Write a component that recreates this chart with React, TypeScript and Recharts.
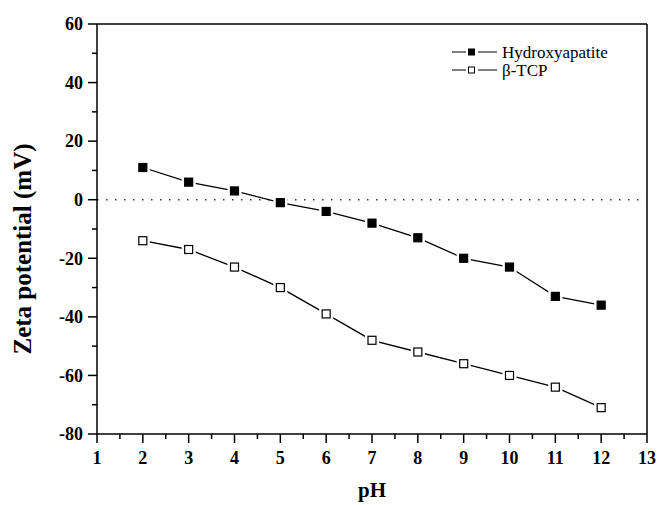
import { LineChart, Line, XAxis, YAxis, ReferenceLine, Customized } from "recharts";

const phValues = [2, 3, 4, 5, 6, 7, 8, 9, 10, 11, 12];
const hydroxyapatite = [11, 6, 3, -1, -4, -8, -13, -20, -23, -33, -36];
const betaTcp = [-14, -17, -23, -30, -39, -48, -52, -56, -60, -64, -71];

const xTicks = [1, 1.5, 2, 2.5, 3, 3.5, 4, 4.5, 5, 5.5, 6, 6.5, 7, 7.5, 8, 8.5, 9, 9.5, 10, 10.5, 11, 11.5, 12, 12.5, 13];
const yTicks = [-80, -70, -60, -50, -40, -30, -20, -10, 0, 10, 20, 30, 40, 50, 60];

const series = [
  { key: "ha", name: "Hydroxyapatite", filled: true },
  { key: "tcp", name: "\u03b2-TCP", filled: false },
];

const data = phValues.map((ph, i) => ({ ph, ha: hydroxyapatite[i], tcp: betaTcp[i] }));

const FONT = '"Liberation Serif", "Times New Roman", serif';
const serif = { fontFamily: FONT };

const SquareDot = ({ cx, cy, filled }: any) => {
  if (cx == null || cy == null) return null;
  return (
    <g>
      <rect x={cx - 7} y={cy - 7} width={14} height={14} fill="#fff" />
      <rect
        x={cx - 4}
        y={cy - 4}
        width={8}
        height={8}
        fill={filled ? "#000" : "#fff"}
        stroke="#000"
        strokeWidth={1.2}
      />
    </g>
  );
};

const YTick = ({ x, y, payload }: any) => {
  const major = payload.value % 20 === 0;
  return (
    <g>
      <line x1={x - (major ? 9 : 5)} y1={y} x2={x} y2={y} stroke="#000" strokeWidth={1.5} />
      {major && (
        <text x={x - 14} y={y} dy="0.35em" textAnchor="end" style={serif} fontWeight="bold" fontSize={18} fill="#000">
          {payload.value}
        </text>
      )}
    </g>
  );
};

const XTick = ({ x, y, payload }: any) => {
  const major = Number.isInteger(payload.value);
  return (
    <g>
      <line x1={x} y1={y} x2={x} y2={y + (major ? 9 : 5)} stroke="#000" strokeWidth={1.5} />
      {major && (
        <text x={x} y={y + 17} dy="0.71em" textAnchor="middle" style={serif} fontWeight="bold" fontSize={18} fill="#000">
          {payload.value}
        </text>
      )}
    </g>
  );
};

const Labels = () => (
  <g>
    <text
      x={0}
      y={0}
      transform="translate(31,249) rotate(-90)"
      textAnchor="middle"
      style={serif}
      fontWeight="bold"
      fontSize={25}
      fill="#000"
    >
      Zeta potential (mV)
    </text>
    <text x={372} y={497} textAnchor="middle" style={serif} fontWeight="bold" fontSize={21} fill="#000">
      pH
    </text>
    {series.map((s, i) => {
      const cy = 52 + i * 18;
      return (
        <g key={s.key}>
          <line x1={452} y1={cy} x2={497} y2={cy} stroke="#000" strokeWidth={1.2} />
          <rect x={466} y={cy - 5} width={12} height={10} fill="#fff" />
          <rect x={468.5} y={cy - 3} width={6} height={6} fill={s.filled ? "#000" : "#fff"} stroke="#000" strokeWidth={1} />
          <text x={502} y={cy} dy="0.35em" style={serif} fontSize={17} fill="#000">
            {s.name}
          </text>
        </g>
      );
    })}
  </g>
);

export default function App() {
  return (
    <div style={{ position: "absolute", left: 0, top: 0, background: "#fff" }}>
      <LineChart width={658} height={505} data={data} margin={{ top: 24, right: 11, bottom: 0, left: 0 }}>
        <XAxis
          dataKey="ph"
          type="number"
          domain={[1, 13]}
          ticks={xTicks}
          interval={0}
          tick={<XTick />}
          tickLine={false}
          tickSize={0}
          tickMargin={0}
          height={71}
          axisLine={{ stroke: "#000", strokeWidth: 1.5 }}
        />
        <YAxis
          type="number"
          domain={[-80, 60]}
          ticks={yTicks}
          interval={0}
          tick={<YTick />}
          tickLine={false}
          tickSize={0}
          tickMargin={0}
          width={97}
          axisLine={{ stroke: "#000", strokeWidth: 1.5 }}
        />
        <ReferenceLine y={60} stroke="#000" strokeWidth={1.5} />
        <ReferenceLine x={13} stroke="#000" strokeWidth={1.5} />
        <ReferenceLine y={0} stroke="#333" strokeWidth={1.5} strokeDasharray="1.5 7.5" />
        {series.map((s) => (
          <Line
            key={s.key}
            dataKey={s.key}
            name={s.name}
            stroke="#000"
            strokeWidth={1.3}
            isAnimationActive={false}
            dot={<SquareDot filled={s.filled} />}
            activeDot={false}
          />
        ))}
        <Customized component={Labels} />
      </LineChart>
    </div>
  );
}
